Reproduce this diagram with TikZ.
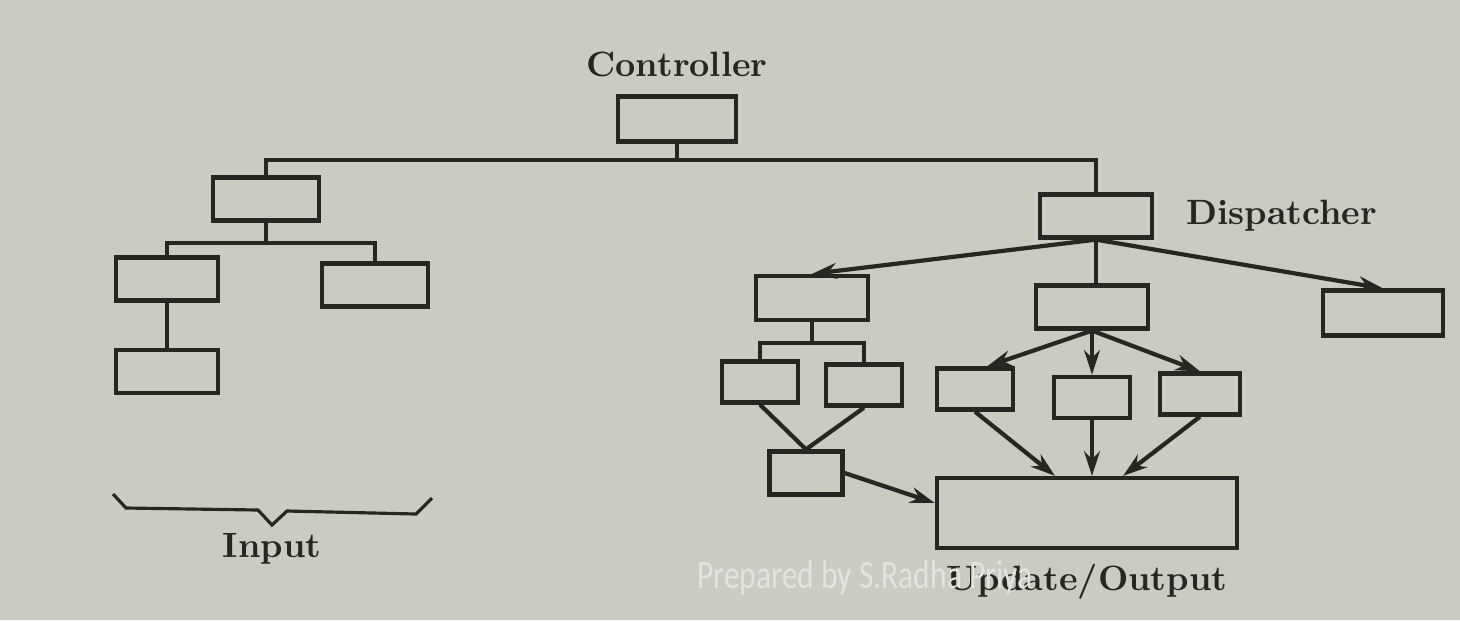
\documentclass[tikz,border=0pt]{standalone}
\usepackage{fontspec}
\usepackage{graphicx}
\usetikzlibrary{arrows.meta,positioning}
\newfontfamily\wmfont{Carlito}
\definecolor{pagebg}{RGB}{201,204,193}
\definecolor{inkdark}{RGB}{38,38,34}
\definecolor{wmgray}{RGB}{226,228,224}

\begin{document}
\begin{tikzpicture}[x=0.01cm,y=-0.01cm,font=\bfseries,text=inkdark,
    module/.style={draw=inkdark,line width=1.2pt,inner sep=0pt,minimum width=1.06cm,minimum height=0.43cm},
    unit/.style={module,minimum width=0.76cm,minimum height=0.41cm},
    link/.style={draw=inkdark,line width=1.2pt},
    flow/.style={link,-{Stealth[length=7pt,width=4.5pt]}}]
  \fill[pagebg] (0,0) rectangle (1460,620);
  % controller and input tree
  \node[module,minimum width=1.18cm,minimum height=0.45cm] (ctl) at (677,119) {};
  \node[above=0.05cm of ctl] (ctltxt) {Controller};
  \node[module] (l1) at (266,199) {};
  \node[module,minimum width=1.02cm] (l2) at (167,279) {};
  \node[module] (l3) at (375,285) {};
  \node[module,minimum width=1.02cm,below=0.45cm of l2] (l4) {};
  \node (inp) at (272,549) {Input};
  % dispatcher side
  \node[module,minimum width=1.12cm] (d) at (1096,216) {};
  \node[right=0.2cm of d] (dtxt) {Dispatcher};
  \node[module,minimum width=1.12cm,minimum height=0.44cm] (a) at (812,298) {};
  \node[module,minimum width=1.12cm] (b) at (1092,307) {};
  \node[module,minimum width=1.2cm,minimum height=0.45cm] (c) at (1383,313) {};
  \node[unit] (a1) at (760,382) {};
  \node[unit] (a2) at (864,385) {};
  \node[unit] (b1) at (975,389) {};
  \node[unit,below=0.44cm of b] (b2) {};
  \node[unit,minimum width=0.8cm] (b3) at (1200,394) {};
  \node[unit,minimum width=0.73cm,minimum height=0.43cm] (e) at (806,473) {};
  \node[module,minimum width=3cm,minimum height=0.7cm] (u) at (1087,513) {};
  \node[below=0.02cm of u] (utxt) {Update/Output};
  % tree lines
  \draw[link] (ctl.south) -- ++(0,16) -| (l1.north);
  \draw[link] (ctl.south) -- ++(0,16) -| (d.north);
  \draw[link] (l1.south) -- ++(0,20) -| (l2.north);
  \draw[link] (l1.south) -- ++(0,20) -| (l3.north);
  \draw[link] (l2) -- (l4);
  \draw[link] (a.south) -- ++(0,21) -| (a1.north);
  \draw[link] (a.south) -- ++(0,21) -| (a2.north);
  \draw[link] (a1.south) -- (e.north) -- (a2.south);
  \draw[link] (d.south) -- (d.south |- b.north);
  % arrows
  \foreach \t in {a,c}
    \draw[flow] (d.south) -- (\t.north);
  \draw[flow] (b.south) -- ([xshift=0.12cm]b1.north);
  \draw[flow] (b.south) -- (b2.north);
  \draw[flow] (b.south) -- (b3.north);
  \draw[flow] (b1.south) -- ([xshift=-0.32cm]u.north);
  \draw[flow] (b2.south) -- (b2.south |- u.north);
  \draw[flow] (b3.south) -- ([xshift=0.36cm]u.north);
  \draw[flow] (e.east) -- ([yshift=0.1cm]u.west);
  % brace over the input side
  \draw[link,line width=0.9pt] (113,494) -- (126,508) -- (258,510) -- (272,525)
    -- (287,511) -- (416,514) -- (432,498);
  \node[font=\wmfont\mdseries\fontsize{11.5}{12}\selectfont,text=wmgray] (wm) at (865,578)
    {\scalebox{0.78}[1]{Prepared by S.Radha Priya}};
\end{tikzpicture}
\end{document}
